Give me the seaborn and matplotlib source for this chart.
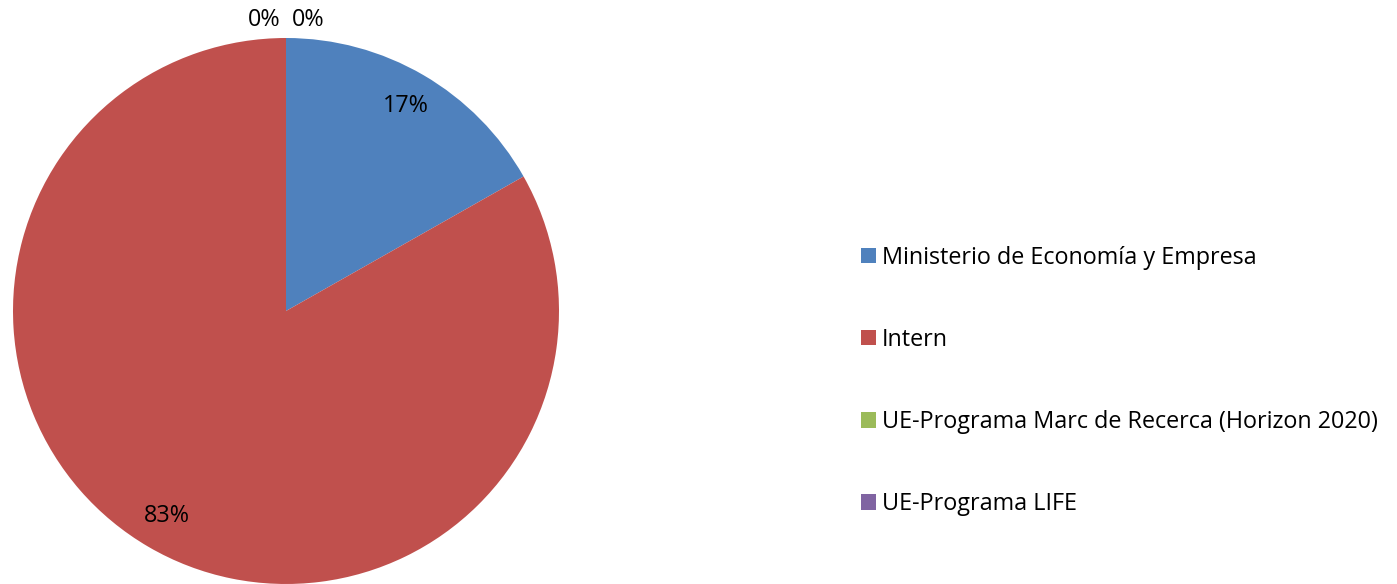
import numpy as np
import matplotlib
matplotlib.use("Agg")
import matplotlib.pyplot as plt
import seaborn as sns

# data
categories = ["Ministerio de Economía y Empresa", "Intern",
              "UE-Programa Marc de Recerca (Horizon 2020)", "UE-Programa LIFE"]
shares = [16.8, 83.2, 0.0, 0.0]
colors = ["#4F81BD", "#C0504D", "#9BBB59", "#8064A2"]

sns.set_theme(style="white")
plt.rcParams['font.family'] = ['Open Sans', 'DejaVu Sans']
plt.rcParams['text.color'] = 'black'

fig = plt.figure(figsize=(13.97, 5.84), dpi=100)
ax = fig.add_axes([13 / 1397, 0.0, 546 / 1397, 546 / 584])

wedges, _ = ax.pie(shares, colors=colors, startangle=90, counterclock=False,
                   wedgeprops=dict(linewidth=0))
ax.set_xlim(-1, 1)
ax.set_ylim(-1, 1)
ax.set_aspect("equal")

fs = 16.8
total = sum(shares)
zero_side = -1
for w, v in zip(wedges, shares):
    pct = f"{round(100 * v / total):.0f}%"
    mid = np.deg2rad((w.theta1 + w.theta2) / 2)
    if v > 0:
        ax.text(0.87 * np.cos(mid), 0.87 * np.sin(mid), pct, fontsize=fs,
                ha="center", va="center", color="black")
    else:
        # zero slices sit at the top; spread them to each side
        ax.text(1.066 * np.cos(mid) + zero_side * 0.02, 1.066 * np.sin(mid), pct,
                fontsize=fs, ha="right" if zero_side < 0 else "left",
                va="center", color="black", clip_on=False)
        zero_side = -zero_side

leg = fig.legend(wedges, categories, loc="center left",
                 bbox_to_anchor=(861 / 1397, (584 - 381) / 584),
                 frameon=False, fontsize=fs, labelspacing=2.49,
                 handlelength=0.64, handleheight=0.64, handletextpad=0.25,
                 borderpad=0, borderaxespad=0)
for t in leg.get_texts():
    t.set_color("black")

fig.savefig("out.png", dpi=100)
